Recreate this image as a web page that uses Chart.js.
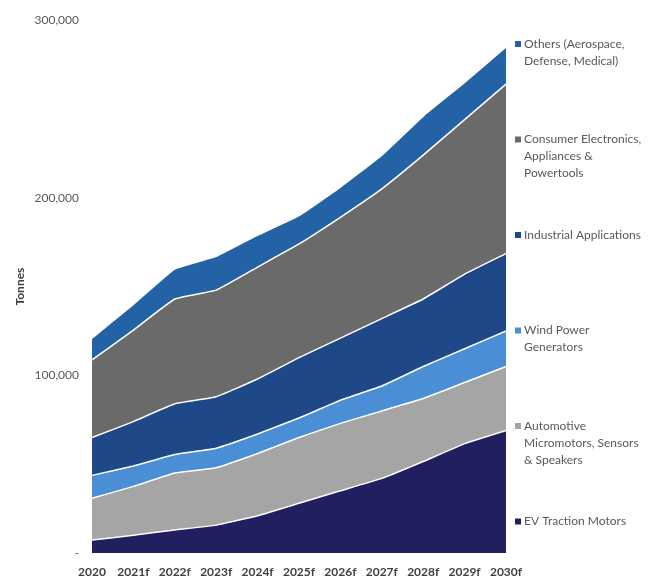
<!DOCTYPE html>
<html>
<head>
<meta charset="utf-8">
<script src="https://cdn.jsdelivr.net/npm/chart.js@4/dist/chart.umd.min.js"></script>
<style>
  html, body { margin: 0; padding: 0; background: #fff; }
  #wrap { width: 667px; height: 586px; position: relative; }
</style>
</head>
<body>
<div id="wrap"><canvas id="myChart"></canvas></div>
<script>
// years on the x axis
var years = ["2020", "2021f", "2022f", "2023f", "2024f", "2025f", "2026f", "2027f", "2028f", "2029f", "2030f"];

// tonnes per segment (stacked bottom to top)
var evTraction = [7300, 10000, 13000, 15700, 21000, 28000, 35000, 42000, 51500, 61600, 69000];
var automotive = [23500, 27500, 32000, 32300, 35000, 37000, 38000, 38000, 35500, 34400, 36000];
var windPower = [12900, 11500, 10500, 11000, 11000, 11000, 13000, 14000, 18000, 19000, 20000];
var industrial = [21300, 25000, 28500, 29000, 31000, 34000, 35000, 38000, 38000, 42000, 43600];
var consumer = [43700, 51500, 59000, 60000, 63000, 64000, 68000, 73000, 81000, 87000, 95400];
var others = [12300, 14500, 17000, 19000, 18000, 16000, 17000, 19000, 22000, 21000, 21000];

// legend texts, one entry per series, split in lines
var legendLines = [
  ["EV Traction Motors"],
  ["Automotive", "Micromotors, Sensors", "& Speakers"],
  ["Wind Power", "Generators"],
  ["Industrial Applications"],
  ["Consumer Electronics,", "Appliances &", "Powertools"],
  ["Others (Aerospace,", "Defense, Medical)"]
];

var yTicks = [0, 100000, 200000, 300000];

var colors = ["#211f5f", "#a5a5a5", "#4a8fd5", "#1f4889", "#6a6a6a", "#2462a6"];
var series = [evTraction, automotive, windPower, industrial, consumer, others];

var datasets = series.map(function (vals, i) {
  return {
    label: legendLines[i].join(" "),
    data: vals,
    backgroundColor: colors[i],
    borderColor: "#ffffff",
    borderWidth: 1.5,
    pointRadius: 0,
    tension: 0.1,
    fill: i === 0 ? "origin" : "-1"
  };
});

// legend on the right, drawn by hand like the excel one
var sideLegend = {
  id: "sideLegend",
  afterDraw: function (chart) {
    var ctx = chart.ctx;
    ctx.save();
    ctx.font = "12px Lato";
    ctx.textBaseline = "middle";
    ctx.textAlign = "left";
    var n = legendLines.length;
    for (var k = 0; k < n; k++) {
      var i = n - 1 - k;
      var y = 44 + k * 95.5;
      ctx.fillStyle = colors[i];
      ctx.fillRect(515, y - 3, 6, 6);
      ctx.fillStyle = "#595959";
      legendLines[i].forEach(function (line, j) {
        ctx.fillText(line, 524, y + j * 17);
      });
    }
    ctx.restore();
  }
};

var ctx = document.getElementById("myChart");
var myChart = new Chart(ctx, {
  type: "line",
  data: { labels: years, datasets: datasets },
  plugins: [sideLegend],
  options: {
    responsive: true,
    maintainAspectRatio: false,
    animation: false,
    layout: { padding: { top: 18, right: 161, left: 0, bottom: 0 } },
    plugins: {
      legend: { display: false },
      tooltip: { enabled: false }
    },
    scales: {
      x: {
        offset: false,
        grid: { display: false, drawTicks: false },
        border: { display: false },
        ticks: {
          padding: 12,
          maxRotation: 0,
          autoSkip: false,
          color: "#404040",
          font: { family: "Lato", size: 12, weight: "bold" }
        },
        afterFit: function (scale) { scale.height = 33; }
      },
      y: {
        stacked: true,
        min: 0,
        max: 300000,
        grid: { display: false, drawTicks: false },
        border: { display: false },
        afterBuildTicks: function (scale) {
          scale.ticks = yTicks.map(function (v) { return { value: v }; });
        },
        ticks: {
          padding: 13,
          color: "#595959",
          font: { family: "Lato", size: 12 },
          callback: function (v) { return v === 0 ? "-" : v.toLocaleString("en-US"); }
        },
        title: {
          display: true,
          text: "Tonnes",
          color: "#404040",
          padding: { top: 13, bottom: 0 },
          font: { family: "Lato", size: 12, weight: "bold" }
        },
        afterFit: function (scale) { scale.width = 92; }
      }
    }
  }
});
</script>
</body>
</html>
